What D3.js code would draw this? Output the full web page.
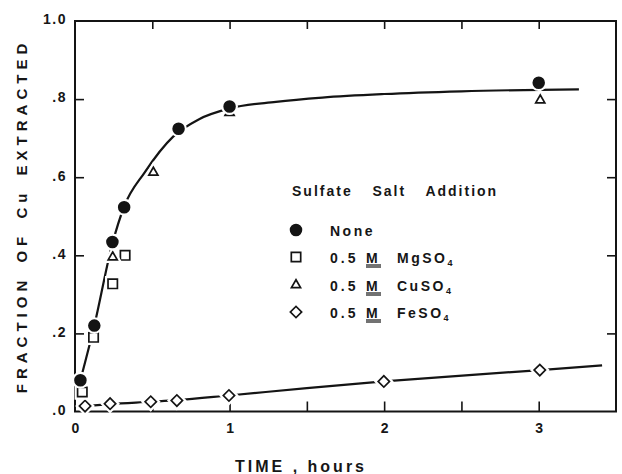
<!DOCTYPE html>
<html><head><meta charset="utf-8">
<script src="https://cdn.jsdelivr.net/npm/d3@7"></script>
<style>
html,body{margin:0;padding:0;background:#fff;}
svg text{font-family:"Liberation Sans",Arial,Helvetica,sans-serif;font-weight:bold;fill:#161616;}
</style></head><body>
<svg id="chart" width="622" height="474"></svg>
<script>
// Measured points: [time (h), fraction of Cu extracted]
const noneData = [[0.035,0.08],[0.125,0.22],[0.242,0.434],[0.318,0.523],[0.67,0.724],[1.0,0.781],[3.0,0.842]];
const mgData   = [[0.047,0.05],[0.12,0.19],[0.244,0.327],[0.324,0.40]];
const cuData   = [[0.244,0.395],[0.507,0.612],[1.0,0.765],[3.01,0.797]];
const feData   = [[0.065,0.014],[0.227,0.02],[0.49,0.025],[0.659,0.028],[0.996,0.041],[1.998,0.077],[3.007,0.106]];

// Hand-drawn trend curves
const fastCurve = [[0.035,0.08],[0.125,0.22],[0.242,0.43],[0.318,0.525],[0.45,0.612],[0.635,0.704],[0.8,0.748],[1.0,0.776],[1.3,0.793],[1.6,0.804],[2.0,0.813],[2.5,0.82],[3.26,0.825]];
const slowCurve = [[0.065,0.014],[0.227,0.019],[0.49,0.025],[0.659,0.029],[0.996,0.041],[1.5,0.06],[1.998,0.077],[3.007,0.106],[3.41,0.118]];

// Axis ticks and labels
const xLabelTicks = [0, 1, 2, 3];
const xMinorTicks = [0.5, 1, 1.5, 2, 2.5, 3];
const yTickValues = [0, 0.2, 0.4, 0.6, 0.8, 1.0];
const yTickLabels = [".0", ".2", ".4", ".6", ".8", "1.0"];

const legendTitle = "Sulfate  Salt  Addition";
const legendItems = [
  {key: "none", text: "None"},
  {key: "mg", text: "MgSO", conc: "0.5", unit: "M"},
  {key: "cu", text: "CuSO", conc: "0.5", unit: "M"},
  {key: "fe", text: "FeSO", conc: "0.5", unit: "M"}
];

const svg = d3.select("#chart");
const x = d3.scaleLinear().domain([0, 3.5]).range([75, 616]);
const y = d3.scaleLinear().domain([0, 1]).range([411.5, 21]);
const ink = "#141414";

// Trend curves
const line = d3.line().x(d => x(d[0])).y(d => y(d[1])).curve(d3.curveMonotoneX);
[fastCurve, slowCurve].forEach(c => {
  svg.append("path").attr("d", line(c)).attr("fill", "none")
    .attr("stroke", ink).attr("stroke-width", 2.2);
});

// Frame and inward ticks
const g = svg.append("g");
g.append("rect").attr("x", x(0)).attr("y", y(1)).attr("width", x(3.5) - x(0)).attr("height", y(0) - y(1))
  .attr("fill", "none").attr("stroke", ink).attr("stroke-width", 2);

function styleAxis(sel) {
  sel.select(".domain").remove();
  sel.selectAll(".tick line").attr("stroke", ink).attr("stroke-width", 1.6);
  sel.selectAll(".tick text").remove();
}
g.append("g").attr("transform", `translate(0,${y(1)})`)
  .call(d3.axisTop(x).tickValues(xMinorTicks).tickSize(-8)).call(styleAxis);
g.append("g").attr("transform", `translate(0,${y(0)})`)
  .call(d3.axisBottom(x).tickValues(xMinorTicks).tickSize(-10)).call(styleAxis);
g.append("g").attr("transform", `translate(${x(0)},0)`)
  .call(d3.axisLeft(y).tickValues([0.2, 0.4, 0.6, 0.8]).tickSize(-9)).call(styleAxis);
g.append("g").attr("transform", `translate(${x(3.5)},0)`)
  .call(d3.axisRight(y).tickValues([0.2, 0.4, 0.6, 0.8]).tickSize(-9)).call(styleAxis);

// Tick labels
const yl = g.append("g").attr("transform", `translate(${x(0)},0)`)
  .call(d3.axisLeft(y).tickValues(yTickValues).tickSize(0).tickPadding(8)
    .tickFormat((d, i) => yTickLabels[i]));
yl.select(".domain").remove();
yl.selectAll(".tick text").attr("font-size", 14).attr("letter-spacing", 1.5)
  .attr("fill", ink).attr("font-family", null).attr("dy", "0.2em");

const xl = g.append("g").attr("transform", `translate(0,${y(0)})`)
  .call(d3.axisBottom(x).tickValues(xLabelTicks).tickSize(0).tickPadding(12)
    .tickFormat(d3.format("d")));
xl.select(".domain").remove();
xl.selectAll(".tick text").attr("font-size", 14).attr("fill", ink).attr("font-family", null);

// Axis titles
svg.append("text").attr("transform", "translate(27,216) rotate(-90)")
  .attr("text-anchor", "middle").attr("font-size", 15)
  .attr("letter-spacing", 5).attr("word-spacing", 4)
  .text("FRACTION  OF  Cu  EXTRACTED");
svg.append("text").attr("x", 301).attr("y", 472).attr("text-anchor", "middle")
  .attr("font-size", 16).attr("letter-spacing", 3)
  .text("TIME , hours");

// Markers
const symbols = {
  none: {type: d3.symbolCircle, size: 92, fill: ink, rot: 0},
  mg:   {type: d3.symbolSquare, size: 88, fill: "#fff", rot: 0},
  cu:   {type: d3.symbolTriangle, size: 36, fill: "#fff", rot: 0},
  fe:   {type: d3.symbolSquare, size: 64, fill: "#fff", rot: 45}
};
function drawMarkers(data, key) {
  const s = symbols[key];
  const path = d3.symbol().type(s.type).size(s.size)();
  const grp = svg.append("g");
  // white halo leaves a small gap where the curve meets a marker
  grp.selectAll("path.halo").data(data).join("path").attr("class", "halo")
    .attr("d", path).attr("transform", d => `translate(${x(d[0])},${y(d[1])}) rotate(${s.rot})`)
    .attr("fill", "#fff").attr("stroke", "#fff").attr("stroke-width", 6);
  grp.selectAll("path.mk").data(data).join("path").attr("class", "mk")
    .attr("d", path).attr("transform", d => `translate(${x(d[0])},${y(d[1])}) rotate(${s.rot})`)
    .attr("fill", s.fill).attr("stroke", ink).attr("stroke-width", 1.7);
}
drawMarkers(feData, "fe");
drawMarkers(mgData, "mg");
drawMarkers(cuData, "cu");
drawMarkers(noneData, "none");

// Legend
const lg = svg.append("g");
lg.append("text").attr("x", 292).attr("y", 196).attr("font-size", 14)
  .attr("letter-spacing", 2).attr("word-spacing", 4).attr("xml:space", "preserve")
  .style("white-space", "pre").text(legendTitle);
const rowY = [230, 257, 285, 312];
legendItems.forEach((it, i) => {
  const s = symbols[it.key];
  lg.append("path").attr("d", d3.symbol().type(s.type).size(s.size)())
    .attr("transform", `translate(296,${rowY[i]}) rotate(${s.rot})`)
    .attr("fill", s.fill).attr("stroke", ink).attr("stroke-width", 1.7);
  const base = rowY[i] + 5.5;
  if (!it.conc) {
    lg.append("text").attr("x", 330).attr("y", base).attr("font-size", 14)
      .attr("letter-spacing", 2.5).text(it.text);
    return;
  }
  lg.append("text").attr("x", 330).attr("y", base).attr("font-size", 14)
    .attr("letter-spacing", 3).text(it.conc);
  lg.append("text").attr("x", 366).attr("y", base).attr("font-size", 14).text(it.unit);
  lg.append("line").attr("x1", 366).attr("x2", 381).attr("y1", base + 2.5).attr("y2", base + 2.5)
    .attr("stroke", ink).attr("stroke-width", 1.2);
  lg.append("line").attr("x1", 366).attr("x2", 381).attr("y1", base + 4.5).attr("y2", base + 4.5)
    .attr("stroke", ink).attr("stroke-width", 1.2);
  const t = lg.append("text").attr("x", 397).attr("y", base).attr("font-size", 14)
    .attr("letter-spacing", 2.5);
  t.append("tspan").text(it.text);
  t.append("tspan").attr("font-size", 9).attr("dy", 3).text("4");
});
</script>
</body></html>
